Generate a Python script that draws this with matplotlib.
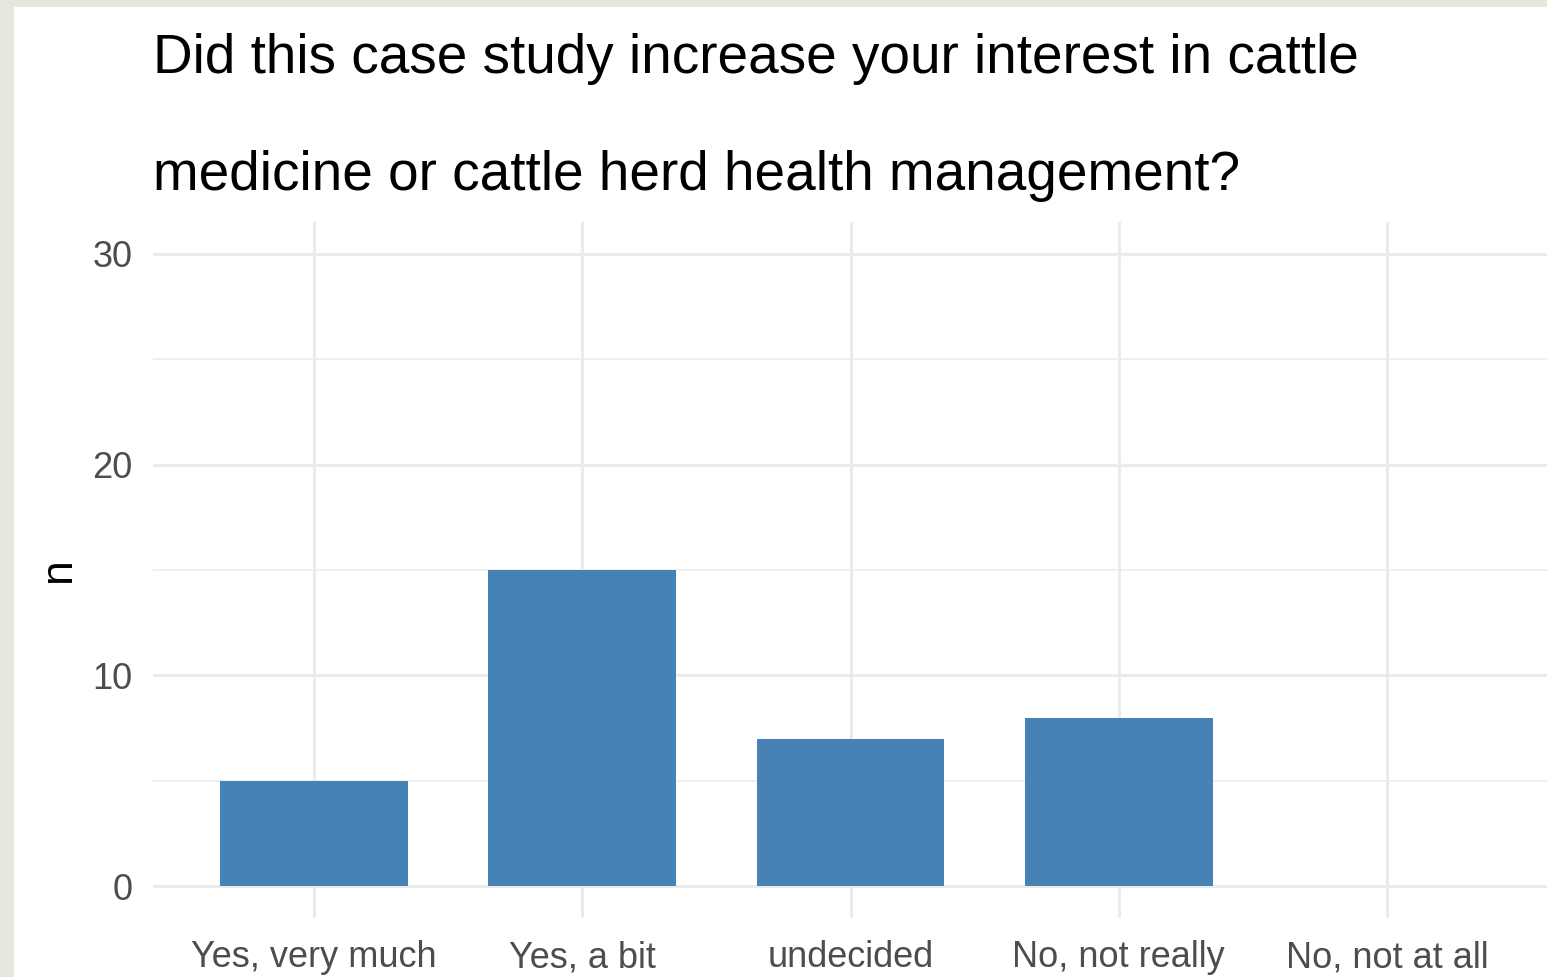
import matplotlib.pyplot as plt
from matplotlib.patches import Rectangle

# answers and counts
categories = ["Yes, very much", "Yes, a bit", "undecided", "No, not really", "No, not at all"]
counts = [5, 15, 7, 8, 0]
y_ticks = [0, 10, 20, 30]
y_minor = [5, 15, 25]
title_lines = ["Did this case study increase your interest in cattle",
               "medicine or cattle herd health management?"]

W, H = 1547, 977
plt.rcParams['font.family'] = ['Liberation Sans', 'DejaVu Sans']

fig = plt.figure(figsize=(W / 100, H / 100), dpi=100, facecolor='#e6e7df')
# white slide area (screenshot shows a bit of textured background at left/top)
fig.patches.append(Rectangle((14 / W, 0), 1 - 14 / W, 1 - 7 / H,
                             transform=fig.transFigure, facecolor='white',
                             edgecolor='none', zorder=-5))

ax = fig.add_axes([153 / W, (H - 918) / H, (1548 - 153) / W, (918 - 222) / H])
ax.set_facecolor('none')
ax.set_zorder(2)

x = list(range(1, len(categories) + 1))
ax.bar(x, counts, width=0.7, color='#4682B4', zorder=3)

ax.set_xlim(0.4, 5.6)
ax.set_ylim(-1.5, 31.5)
ax.set_xticks(x)
ax.set_xticklabels(categories)
ax.set_yticks(y_ticks)
ax.set_yticks(y_minor, minor=True)

ax.grid(which='major', color='#EBEBEB', linewidth=2.2, zorder=0)
ax.grid(which='minor', axis='y', color='#EBEBEB', linewidth=1.1, zorder=0)
ax.tick_params(which='both', length=0)
ax.tick_params(axis='y', pad=15, labelsize=26, labelcolor='#4D4D4D')
ax.tick_params(axis='x', pad=16, labelsize=26, labelcolor='#4D4D4D')
for s in ax.spines.values():
    s.set_visible(False)

ax.set_ylabel('n', fontsize=32, color='black', labelpad=9)

fig.text(153 / W, 1 - 73 / H, title_lines[0], fontsize=39.5, va='baseline', ha='left')
fig.text(153 / W, 1 - 190 / H, title_lines[1], fontsize=39.5, va='baseline', ha='left')

fig.savefig('out.png', dpi=100, facecolor=fig.get_facecolor())
